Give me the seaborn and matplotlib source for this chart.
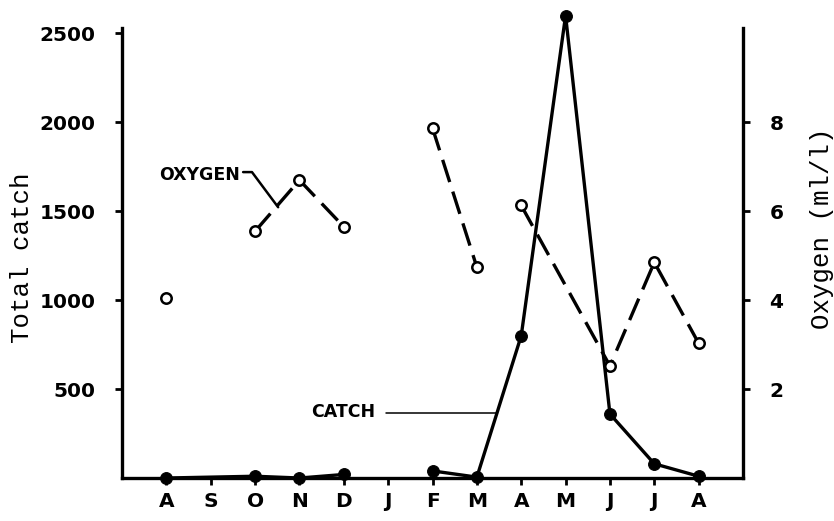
import numpy as np
import pandas as pd
import matplotlib
matplotlib.use("Agg")
import matplotlib.pyplot as plt
import seaborn as sns

# Monthly sampling, August through the following August
months = ["A", "S", "O", "N", "D", "J", "F", "M", "A", "M", "J", "J", "A"]
catch = [0, np.nan, 10, 0, 20, np.nan, 40, 5, 800, 2600, 360, 80, 10]
catch_run = [1, 0, 1, 1, 1, 0, 2, 2, 2, 2, 2, 2, 2]
oxygen = [4.05, np.nan, 5.55, 6.7, 5.65, np.nan, 7.87, 4.74, 6.13, np.nan, 2.52, 4.85, 3.03]
oxygen_run = [1, 0, 2, 2, 2, 0, 3, 3, 4, 0, 4, 4, 4]
catch_ticks = [500, 1000, 1500, 2000, 2500]
oxygen_ticks = [2, 4, 6, 8]

sns.set_style("ticks")
plt.rcParams["font.family"] = ["DejaVu Sans"]
plt.rcParams.update({"text.color": "black", "axes.labelcolor": "black",
                     "xtick.color": "black", "ytick.color": "black"})

pos = np.arange(len(months))
df_catch = pd.DataFrame({"pos": pos, "catch": catch, "run": catch_run}).dropna()
df_oxy = pd.DataFrame({"pos": pos, "oxygen": oxygen, "run": oxygen_run}).dropna()

fig = plt.figure(figsize=(8.34, 5.21), dpi=100)
ax = fig.add_axes([0.1463, 0.0825, 0.7446, 0.8637])
ax2 = ax.twinx()

sns.lineplot(data=df_catch, x="pos", y="catch", units="run", estimator=None,
             sort=False, ax=ax, color="black", linewidth=2.4, marker="o",
             markersize=8.5, markerfacecolor="black", markeredgecolor="black",
             clip_on=False, zorder=3)
sns.lineplot(data=df_oxy, x="pos", y="oxygen", units="run", estimator=None,
             sort=False, ax=ax2, color="black", linewidth=2.4,
             linestyle=(0, (7, 3)), marker="o", markersize=7.5,
             markerfacecolor="white", markeredgecolor="black",
             markeredgewidth=1.8, clip_on=False, zorder=3)

ax.set_xlim(-1, 13)
ax.set_ylim(0, 2530)
ax2.set_ylim(0, 10.12)

ax.set_xticks(pos)
ax.set_xticklabels(months)
ax.set_yticks(catch_ticks)
ax.set_yticklabels([str(v) for v in catch_ticks])
ax2.set_yticks(oxygen_ticks)
ax2.set_yticklabels([str(v) for v in oxygen_ticks])

for lab in ax.get_xticklabels() + ax.get_yticklabels() + ax2.get_yticklabels():
    lab.set_fontsize(14.5)
    lab.set_fontweight("bold")
    lab.set_color("black")

ax.tick_params(axis="y", direction="out", length=5, width=2, pad=14, colors="black")
ax.tick_params(axis="x", direction="out", length=5, width=2, pad=5, colors="black")
ax2.tick_params(axis="y", direction="out", length=5, width=2, pad=14, colors="black")

for s in ["top", "right"]:
    ax.spines[s].set_visible(False)
for s in ["top", "left", "bottom"]:
    ax2.spines[s].set_visible(False)
for s in ["left", "bottom"]:
    ax.spines[s].set_linewidth(2.4)
    ax.spines[s].set_color("black")
ax2.spines["right"].set_linewidth(2.4)
ax2.spines["right"].set_color("black")

mono = ["Liberation Mono", "DejaVu Sans Mono"]
ax.set_xlabel("")
ax.set_ylabel("Total catch", family=mono, fontsize=18.5, color="black")
ax.yaxis.set_label_coords(-0.141, 0.49)
ax2.set_ylabel("Oxygen (ml/l)", family=mono, fontsize=18.5, color="black")
ax2.yaxis.set_label_coords(1.108, 0.556)

# Series labels with leader lines
ax2.text(1.66, 6.81, "OXYGEN", ha="right", va="center", fontsize=12.5,
         fontweight="bold", color="black")
ax2.plot([1.73, 1.93, 2.52], [6.88, 6.88, 6.09], color="black", lw=1.8,
         zorder=2)
ax.text(4.72, 372, "CATCH", ha="right", va="center", fontsize=12.5,
        fontweight="bold", color="black")
ax.plot([4.95, 7.45], [365, 365], color="black", lw=1.1, zorder=2)

fig.savefig("out.png", dpi=100, facecolor="white")
